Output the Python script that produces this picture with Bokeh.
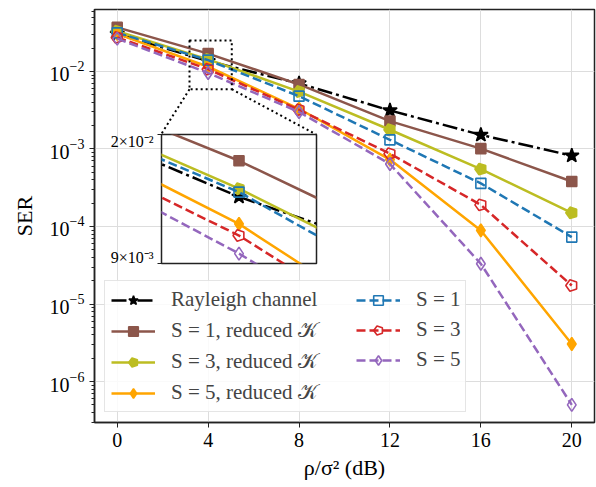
import math
from bokeh.plotting import figure
from bokeh.models import (Range1d, FixedTicker, Legend, LegendItem, ColumnDataSource)
from bokeh.embed import file_html
from bokeh.resources import INLINE

# ---------------- data ----------------
snr_db = [0, 4, 8, 12, 16, 20]
ser_rayleigh = [3.05e-2, 1.36e-2, 7.0e-3, 3.14e-3, 1.52e-3, 8.2e-4]
ser_s1_reduced = [3.7e-2, 1.70e-2, 6.8e-3, 2.29e-3, 1.01e-3, 3.8e-4]
ser_s3_reduced = [3.3e-2, 1.43e-2, 5.5e-3, 1.77e-3, 5.5e-4, 1.5e-4]
ser_s5_reduced = [3.05e-2, 1.15e-2, 3.3e-3, 7.3e-4, 8.9e-5, 3.05e-6]
ser_s1 = [3.15e-2, 1.40e-2, 4.8e-3, 1.31e-3, 3.6e-4, 7.3e-5]
ser_s3 = [2.75e-2, 1.07e-2, 3.2e-3, 8.7e-4, 1.9e-4, 1.73e-5]
ser_s5 = [2.65e-2, 9.57e-3, 3.0e-3, 6.4e-4, 3.3e-5, 5.0e-7]

series_values = [ser_rayleigh, ser_s1_reduced, ser_s3_reduced, ser_s5_reduced,
                 ser_s1, ser_s3, ser_s5]
series_labels = ["Rayleigh channel", "S = 1, reduced \U0001D4A6", "S = 3, reduced \U0001D4A6",
                 "S = 5, reduced \U0001D4A6", "S = 1", "S = 3", "S = 5"]

x_ticks = [0, 4, 8, 12, 16, 20]
y_major_ticks = [1e-6, 1e-5, 1e-4, 1e-3, 1e-2]
y_minor_mantissas = [2, 3, 4, 5, 6, 7, 8, 9]
y_minor_exponents = [-7, -6, -5, -4, -3, -2]

X_LIM = (-1.0, 21.0)
Y_LIM = (2.96e-7, 6.3e-2)

INSET_X_LIM = (3.0, 5.0)
INSET_Y_LIM = (9e-3, 2e-2)
INSET_Y_TICKS = [9e-3, 2e-2]
INSET_Y_LABELS = ["9\u00d710\u207b\u00b3", "2\u00d710\u207b\u00b2"]
ZOOM_BOX_X = (3.18, 5.04)
ZOOM_BOX_Y = (5.9e-3, 2.5e-2)
INSET_AT_X = (1.93, 8.75)       # where the inset frame sits, in main data coords
INSET_AT_Y = (3.33e-5, 1.54e-3)

# ---------------- styles ----------------
FONT = "Liberation Serif"
STYLES = [
    dict(color="black", dash="15 4 3 4", marker="star", filled=True, size=15),
    dict(color="#8c564b", dash="solid", marker="square", filled=True, size=10),
    dict(color="#bcbd22", dash="solid", marker="pentagon", filled=True, size=12),
    dict(color="#ffa500", dash="solid", marker="diamond", filled=True, size=13),
    dict(color="#1f77b4", dash="9 4", marker="square", filled=False, size=10),
    dict(color="#d62728", dash="9 4", marker="pentagon", filled=False, size=12),
    dict(color="#9467bd", dash="9 4", marker="diamond", filled=False, size=13),
]

try:
    from bokeh.models import Ngon
    HAS_NGON = True
except Exception:
    HAS_NGON = False


def draw_series(fig):
    out = []
    for vals, st in zip(series_values, STYLES):
        src = ColumnDataSource(dict(x=snr_db, y=vals))
        ln = fig.line("x", "y", source=src, line_color=st["color"], line_width=2.5,
                      line_dash=st["dash"])
        fill = st["color"] if st["filled"] else None
        mk = None
        if st["marker"] == "pentagon" and HAS_NGON:
            try:
                g = Ngon(x="x", y="y", radius=st["size"] / 2, radius_units="screen", n=5,
                         angle=math.pi / 2, fill_color=fill, line_color=st["color"],
                         line_width=1.6)
                mk = fig.add_glyph(src, g)
            except Exception:
                mk = None
        if mk is None:
            m = "hex" if st["marker"] == "pentagon" else st["marker"]
            mk = fig.scatter("x", "y", source=src, marker=m, size=st["size"],
                             fill_color=fill, line_color=st["color"], line_width=1.6)
        out.append((ln, mk))
    return out


# ---------------- main figure ----------------
W, H = 596, 487
ML, MR, MT, MB = 94, 2, 9, 65
ORIGIN_X, ORIGIN_Y = 0, 0   # page position of the main figure

p = figure(width=W, height=H, y_axis_type="log",
           x_range=Range1d(*X_LIM), y_range=Range1d(*Y_LIM),
           output_backend="svg", toolbar_location=None,
           min_border_left=ML, min_border_right=MR, min_border_top=MT, min_border_bottom=MB,
           background_fill_color="white", border_fill_color="white")
p.outline_line_color = "#222222"
p.outline_line_width = 1.5

p.xaxis.ticker = FixedTicker(ticks=x_ticks)
p.yaxis.ticker = FixedTicker(ticks=y_major_ticks,
                             minor_ticks=[m * 10.0 ** e for e in y_minor_exponents
                                          for m in y_minor_mantissas])
for ax in (p.xaxis, p.yaxis):
    ax.axis_line_color = "#222222"
    ax.axis_line_width = 1.5
    ax.major_tick_out = 5
    ax.major_tick_in = 0
    ax.minor_tick_out = 3
    ax.minor_tick_in = 0
    ax.major_tick_line_color = "#222222"
    ax.minor_tick_line_color = "#222222"
    ax.major_label_text_font = FONT
    ax.major_label_text_font_size = "20px"
    ax.major_label_text_color = "black"
    ax.axis_label_text_font = FONT
    ax.axis_label_text_font_size = "22px"
    ax.axis_label_text_font_style = "normal"
    ax.axis_label_text_color = "black"
p.xaxis.minor_tick_line_color = None
p.xaxis.axis_label = "\u03c1/\u03c3\u00b2 (dB)"
p.yaxis.axis_label = "SER"
p.xaxis.axis_label_standoff = 5
p.yaxis.axis_label_standoff = 10
p.xaxis.major_label_standoff = 5

p.grid.grid_line_color = "#dddddd"
p.grid.grid_line_width = 1

main_r = draw_series(p)

# zoom box and connectors
p.quad(left=[ZOOM_BOX_X[0]], right=[ZOOM_BOX_X[1]], bottom=[ZOOM_BOX_Y[0]], top=[ZOOM_BOX_Y[1]],
       fill_color=None, line_color="black", line_width=2, line_dash="2 3")
p.segment(x0=[ZOOM_BOX_X[0], ZOOM_BOX_X[1]], y0=[ZOOM_BOX_Y[0], ZOOM_BOX_Y[0]],
          x1=[INSET_AT_X[0], INSET_AT_X[1]], y1=[INSET_AT_Y[1], INSET_AT_Y[1]],
          line_color="black", line_width=2, line_dash="2 3")

# legend: two columns (col 1 carries the frame)
LEG = dict(label_text_font=FONT, label_text_font_size="21px",
           glyph_width=44, glyph_height=24, label_height=24, label_standoff=16,
           padding=6, margin=0)
items = [LegendItem(label=lab, renderers=[ln, mk]) for lab, (ln, mk) in zip(series_labels, main_r)]
leg1 = Legend(items=items[:4], location=(10, 10), label_width=288, spacing=6,
              border_line_color="#cccccc", border_line_width=1,
              background_fill_color="white", background_fill_alpha=0.85, **LEG)
leg2 = Legend(items=items[4:], location=(262, 50), spacing=5,
              border_line_color=None, background_fill_alpha=0, **LEG)
p.add_layout(leg1)
p.add_layout(leg2)

# ---------------- inset ----------------
FW = W - ML - MR
FH = H - MT - MB
ly0, ly1 = math.log10(Y_LIM[1]), math.log10(Y_LIM[0])


def page_x(x):
    return ORIGIN_X + ML + (x - X_LIM[0]) / (X_LIM[1] - X_LIM[0]) * FW


def page_y(y):
    return ORIGIN_Y + MT + (ly0 - math.log10(y)) / (ly0 - ly1) * FH


IL, IR, IT, IB = 62, 2, 2, 2
ifw = round(page_x(INSET_AT_X[1]) - page_x(INSET_AT_X[0]))
ifh = round(page_y(INSET_AT_Y[0]) - page_y(INSET_AT_Y[1]))
ileft = round(page_x(INSET_AT_X[0])) - IL
itop = round(page_y(INSET_AT_Y[1])) - IT

ins = figure(width=IL + ifw + IR, height=IT + ifh + IB, y_axis_type="log",
             x_range=Range1d(*INSET_X_LIM), y_range=Range1d(*INSET_Y_LIM),
             x_axis_location=None, output_backend="svg", toolbar_location=None,
             min_border_left=IL, min_border_right=IR, min_border_top=IT, min_border_bottom=IB,
             background_fill_alpha=0, border_fill_alpha=0,
             styles={"position": "absolute", "left": f"{ileft}px", "top": f"{itop}px"})
ins.outline_line_color = "#222222"
ins.outline_line_width = 1.5
ins.grid.visible = False
ins.yaxis.ticker = FixedTicker(ticks=INSET_Y_TICKS, minor_ticks=[])
ins.yaxis.major_label_overrides = dict(zip(INSET_Y_TICKS, INSET_Y_LABELS))
ins.yaxis.axis_line_color = None
ins.yaxis.major_tick_out = 4
ins.yaxis.major_tick_in = 0
ins.yaxis.major_tick_line_color = "#222222"
ins.yaxis.major_label_text_font = FONT
ins.yaxis.major_label_text_font_size = "16px"
ins.yaxis.major_label_text_color = "black"
ins.yaxis.major_label_standoff = 4
draw_series(ins)

open("out.html", "w").write(file_html([p, ins], INLINE))
